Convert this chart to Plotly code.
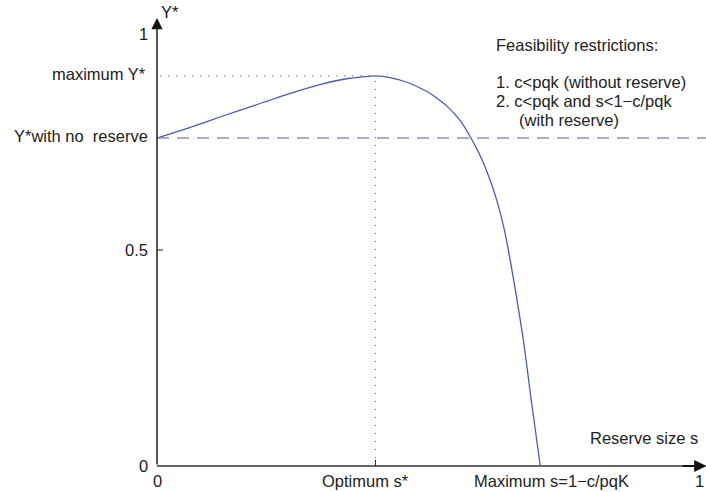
import plotly.graph_objects as go

# Equilibrium yield Y* as a function of reserve size s
reserve_size = [0.0, 0.057, 0.118, 0.179, 0.240, 0.302, 0.350, 0.387, 0.400, 0.427,
                0.463, 0.500, 0.531, 0.555, 0.573, 0.592, 0.610, 0.623, 0.637, 0.656,
                0.671, 0.683, 0.696, 0.702]
yield_star = [0.759, 0.782, 0.809, 0.835, 0.861, 0.884, 0.897, 0.902, 0.903, 0.899,
              0.886, 0.863, 0.833, 0.800, 0.764, 0.718, 0.662, 0.612, 0.542, 0.410,
              0.292, 0.176, 0.055, 0.0]

optimum_s = 0.4
maximum_y = 0.903
no_reserve_y = 0.759
maximum_s = 0.702

y_tick_values = [0, 0.5, 1]
y_tick_labels = ["0", "0.5", "1"]
restriction_lines = [
    "Feasibility restrictions:",
    "1. c<pqk (without reserve)",
    "2. c<pqk and s<1\u2212c/pqk",
    "(with reserve)",
]

FONT = dict(family="Liberation Sans, Arial, sans-serif", size=16.5, color="#222222")

fig = go.Figure()
fig.add_trace(go.Scatter(
    x=reserve_size, y=yield_star, mode="lines",
    line=dict(color="#4b5bb0", width=1.3, shape="spline", smoothing=0.5),
    hoverinfo="skip", showlegend=False,
))

shapes = [
    # reference level without reserve
    dict(type="line", xref="x", yref="y", x0=0, x1=1.01, y0=no_reserve_y, y1=no_reserve_y,
         line=dict(color="#8c92bc", width=1.5, dash="12px,8px")),
    # guides to the optimum
    dict(type="line", xref="x", yref="y", x0=0.006, x1=optimum_s, y0=maximum_y, y1=maximum_y,
         line=dict(color="#666666", width=1.2, dash="1px,7px")),
    dict(type="line", xref="x", yref="y", x0=optimum_s, x1=optimum_s, y0=0, y1=maximum_y,
         line=dict(color="#666666", width=1.2, dash="1px,7px")),
    # horizontal axis line
    dict(type="line", xref="x", yref="y", x0=0, x1=0.985, y0=0, y1=0,
         line=dict(color="#666666", width=2.2)),
    # tick marks
    dict(type="line", xref="x", yref="y", x0=0, x1=0.011, y0=0.5, y1=0.5,
         line=dict(color="#222222", width=1)),
    dict(type="line", xref="x", yref="y", x0=optimum_s, x1=optimum_s, y0=0, y1=0.014,
         line=dict(color="#222222", width=1)),
]

annotations = []
# axis arrowheads
annotations.append(dict(x=0, y=1.037, ax=0, ay=0, xref="x", yref="y", axref="x", ayref="y",
                        showarrow=True, arrowhead=2, arrowsize=1.6, arrowwidth=1.4,
                        arrowcolor="#111111", text="", standoff=0))
annotations.append(dict(x=1.006, y=0, ax=0.96, ay=0, xref="x", yref="y", axref="x", ayref="y",
                        showarrow=True, arrowhead=2, arrowsize=1.1, arrowwidth=2.2,
                        arrowcolor="#111111", text="", standoff=0))

# y labels
for v, lab in zip(y_tick_values, y_tick_labels):
    annotations.append(dict(x=-0.013, y=v, xref="x", yref="y", text=lab, showarrow=False,
                            xanchor="right", yanchor="middle", font=FONT))
annotations.append(dict(x=-0.016, y=maximum_y + 0.005, xref="x", yref="y", text="maximum Y*",
                        showarrow=False, xanchor="right", yanchor="middle", font=FONT))
annotations.append(dict(x=-0.013, y=no_reserve_y + 0.005, xref="x", yref="y",
                        text="Y*with no&nbsp;&nbsp;reserve",
                        showarrow=False, xanchor="right", yanchor="middle", font=FONT))
annotations.append(dict(x=0.004, y=1.052, xref="x", yref="y", text="Y*", showarrow=False,
                        xanchor="left", yanchor="middle", font=FONT))

# x labels
x_labels = [(0.0, "0"), (optimum_s - 0.018, "Optimum s*"),
            (maximum_s + 0.02, "Maximum s=1\u2212c/pqK"), (0.993, "1")]
for xv, lab in x_labels:
    annotations.append(dict(x=xv, y=-0.035, xref="x", yref="y", text=lab, showarrow=False,
                            xanchor="center", yanchor="middle", font=FONT))
annotations.append(dict(x=0.789, y=0.065, xref="x", yref="y", text="Reserve size s",
                        showarrow=False, xanchor="left", yanchor="middle", font=FONT))

# feasibility text block
block_y = [0.975, 0.889, 0.845, 0.801]
block_x = [0.617, 0.617, 0.617, 0.659]
for xv, yv, lab in zip(block_x, block_y, restriction_lines):
    annotations.append(dict(x=xv, y=yv, xref="x", yref="y", text=lab, showarrow=False,
                            xanchor="left", yanchor="middle", font=FONT))

fig.update_layout(
    width=706, height=492,
    margin=dict(l=140, r=0, t=0, b=0),
    paper_bgcolor="white", plot_bgcolor="white",
    xaxis=dict(range=[-17 / 546, 549 / 546], visible=False, fixedrange=True),
    yaxis=dict(range=[-26 / 432, 466 / 432], visible=False, fixedrange=True),
    shapes=shapes, annotations=annotations,
)

fig.write_html("out.html")
